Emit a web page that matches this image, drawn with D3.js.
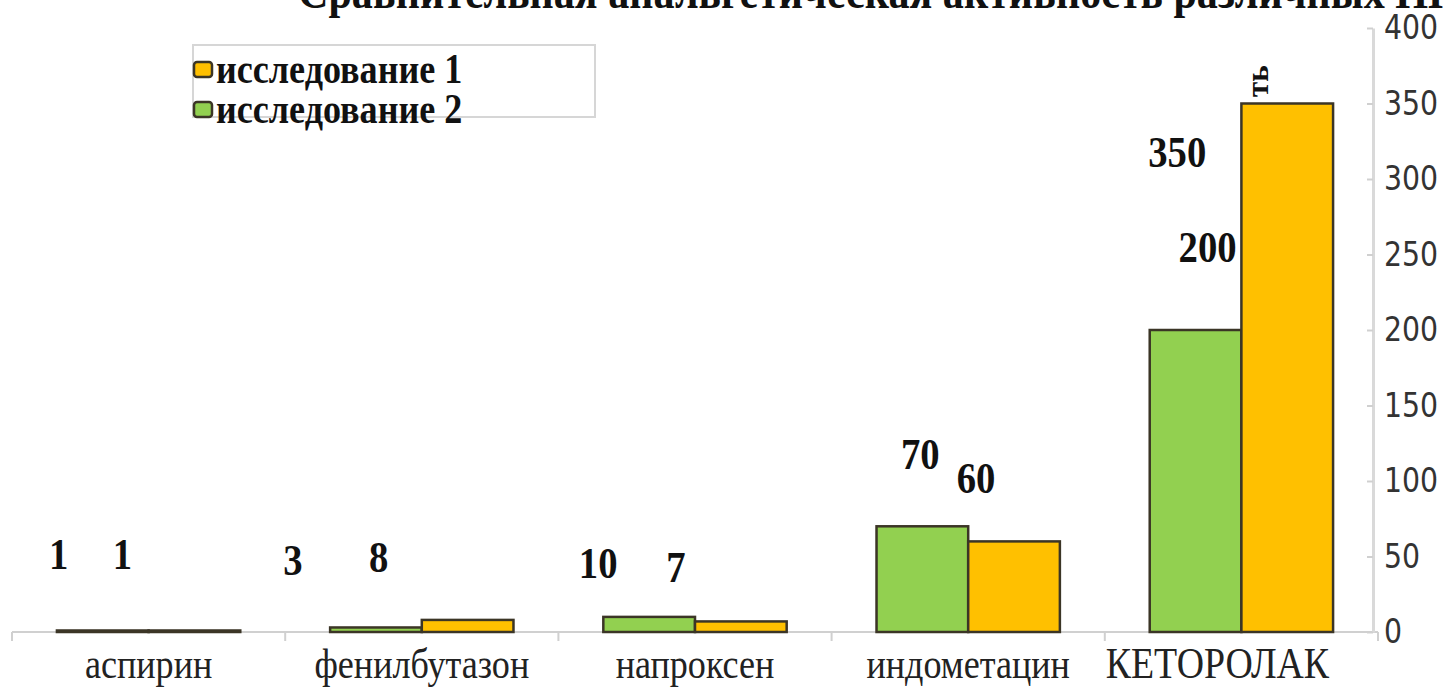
<!DOCTYPE html>
<html>
<head>
<meta charset="utf-8">
<script src="https://cdn.jsdelivr.net/npm/d3@7"></script>
<style>
  body { margin: 0; background: #fff; }
  svg { display: block; }
</style>
</head>
<body>
<svg id="chart" width="1443" height="688"></svg>
<script>
const categories = ["аспирин", "фенилбутазон", "напроксен", "индометацин", "КЕТОРОЛАК"];
const study2 = [1, 3, 10, 70, 200];   // green
const study1 = [1, 8, 7, 60, 350];    // orange
const yTicks = [0, 50, 100, 150, 200, 250, 300, 350, 400];
const seriesNames = ["исследование 1", "исследование 2"];
const titleText = "Сравнительная анальгетическая активность различных НПВС";

const green = "#92d050", orange = "#ffc000", edge = "#3b3526";
const sx = 0.86; // the original picture is squeezed horizontally

let svg = d3.select("#chart");

let x = d3.scaleBand()
    .domain(categories)
    .range([12, 1378]);
let xs = d3.scaleBand()
    .domain(["s2", "s1"])
    .range([0, x.bandwidth()])
    .paddingOuter(0.49);
let y = d3.scaleLinear()
    .domain([0, 400])
    .range([632, 28]);

function squished(parent, px, py) {
    return parent.append("g")
        .attr("transform", "translate(" + px + "," + py + ") scale(" + sx + ",1)")
        .append("text");
}

// title, cut off by the top edge as in the source image
squished(svg, 298, 8)
    .attr("font-family", "Liberation Serif")
    .attr("font-weight", "bold")
    .attr("font-size", "49px")
    .attr("fill", "#111")
    .text(titleText);

// x axis
svg.append("line")
    .attr("x1", x.range()[0]).attr("x2", x.range()[1])
    .attr("y1", y(0)).attr("y2", y(0))
    .attr("stroke", "#d0d0d0").attr("stroke-width", 2);
svg.selectAll(".xtick")
    .data(categories.concat(["end"]))
    .enter().append("line")
    .attr("x1", (d, i) => x.range()[0] + i * x.step())
    .attr("x2", (d, i) => x.range()[0] + i * x.step())
    .attr("y1", y(0)).attr("y2", y(0) + 9)
    .attr("stroke", "#d0d0d0").attr("stroke-width", 2);

categories.forEach(function(c, i) {
    let shift = (i == categories.length - 1) ? -24 : 0;
    squished(svg, x(c) + x.bandwidth() / 2 + shift, 678)
        .attr("text-anchor", "middle")
        .attr("font-family", "Liberation Serif")
        .attr("font-size", i == categories.length - 1 ? "44px" : "42px")
        .attr("fill", "#222")
        .text(c);
});

// right axis
let yAxis = svg.append("g")
    .attr("transform", "translate(1373,0)")
    .call(d3.axisRight(y).tickValues(yTicks).tickSize(0).tickPadding(8));
yAxis.select(".domain").attr("stroke", "#d9d9d9").attr("stroke-width", 3);
yAxis.selectAll(".tick line")
    .attr("x1", -6).attr("x2", 0)
    .attr("stroke", "#d0d0d0").attr("stroke-width", 2);
yAxis.selectAll(".tick text")
    .attr("font-family", "DejaVu Sans")
    .attr("font-size", "33px")
    .attr("fill", "#333")
    .attr("transform", "scale(0.86,1)")
    .attr("x", 11 / 0.86);

// bars
let rows = categories.map((c, i) => ({cat: c, s2: study2[i], s1: study1[i]}));
let groups = svg.selectAll(".grp")
    .data(rows)
    .enter().append("g")
    .attr("transform", d => "translate(" + x(d.cat) + ",0)");
groups.selectAll("rect")
    .data(d => [{k: "s2", v: d.s2}, {k: "s1", v: d.s1}])
    .enter().append("rect")
    .attr("x", d => xs(d.k))
    .attr("y", d => y(d.v))
    .attr("width", xs.bandwidth())
    .attr("height", d => y(0) - y(d.v))
    .attr("fill", d => d.k == "s2" ? green : orange)
    .attr("stroke", edge)
    .attr("stroke-width", 2.5);

// value labels, placed by hand in the original: dx from the bar centre, height in axis units
const labelNudge = [
    [{k: "s2", dx: -44, at: 42}, {k: "s1", dx: -72, at: 42}],
    [{k: "s2", dx: -83, at: 38}, {k: "s1", dx: -89, at: 40}],
    [{k: "s2", dx: -51, at: 36}, {k: "s1", dx: -65, at: 33}],
    [{k: "s2", dx: -2, at: 108}, {k: "s1", dx: -38, at: 92}],
    [{k: "s2", dx: 12, at: 245}, {k: "s1", dx: -110, at: 308}]
];
rows.forEach(function(r, i) {
    labelNudge[i].forEach(function(n) {
        let cx = x(r.cat) + xs(n.k) + xs.bandwidth() / 2 + n.dx;
        squished(svg, cx, y(n.at))
            .attr("text-anchor", "middle")
            .attr("font-family", "Liberation Serif")
            .attr("font-weight", "bold")
            .attr("font-size", "45px")
            .attr("fill", "#111")
            .text(r[n.k]);
    });
});

// stray rotated fragment above the tallest bar
svg.append("text")
    .attr("transform", "translate(1268,97) rotate(-90)")
    .attr("font-family", "Liberation Serif")
    .attr("font-weight", "bold")
    .attr("font-size", "31px")
    .attr("fill", "#111")
    .text("ть");

// legend
let legend = svg.append("g").attr("transform", "translate(193,45)");
legend.append("rect")
    .attr("x", 0).attr("y", 0)
    .attr("width", 402).attr("height", 72)
    .attr("fill", "none")
    .attr("stroke", "#d6d6d6").attr("stroke-width", 2);
[orange, green].forEach(function(col, i) {
    legend.append("rect")
        .attr("x", 1).attr("y", 17 + i * 40)
        .attr("width", 18).attr("height", 15)
        .attr("rx", 3)
        .attr("fill", col)
        .attr("stroke", edge).attr("stroke-width", 2.5);
    squished(legend, 23, 38 + i * 40)
        .attr("font-family", "Liberation Serif")
        .attr("font-weight", "bold")
        .attr("font-size", "42px")
        .attr("fill", "#111")
        .text(seriesNames[i]);
});
</script>
</body>
</html>
